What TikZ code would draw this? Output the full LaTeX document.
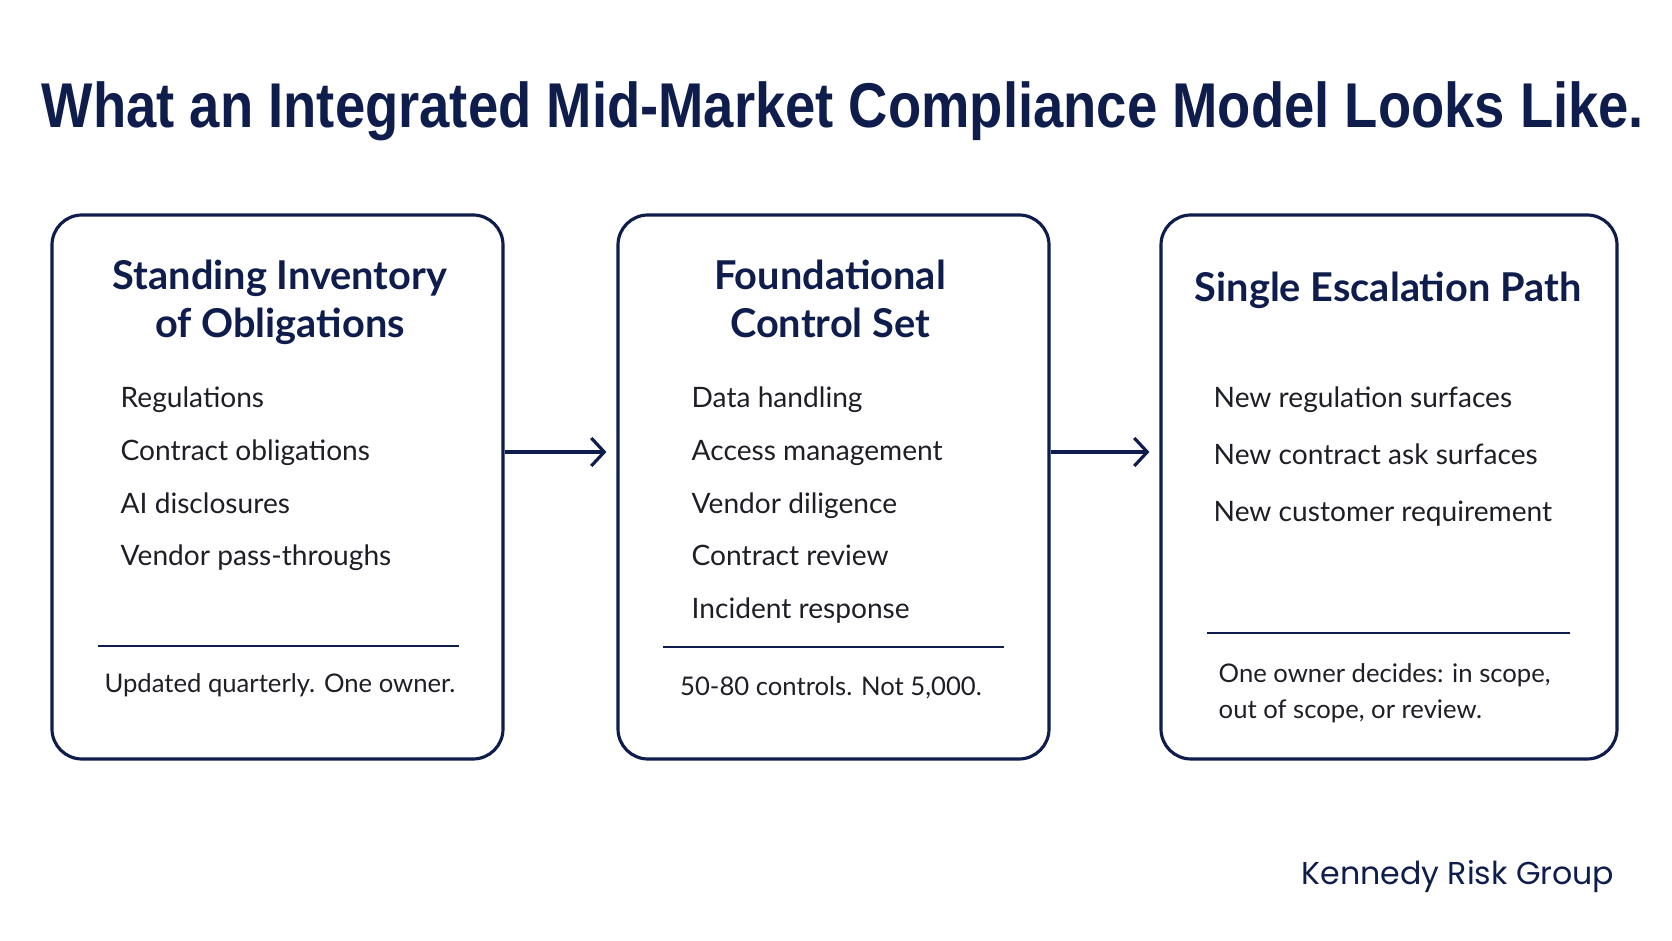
\documentclass[tikz,border=0pt]{standalone}
\usepackage{fontspec}
\usepackage{xcolor}
\usepackage{tikz}
\usetikzlibrary{arrows.meta}
\setmainfont{Lato}
\newfontfamily\titlefont{Liberation Sans}[FakeStretch=0.86]
\newfontfamily\brandfont{Poppins}
\definecolor{navy}{HTML}{0F1D4C}
\definecolor{ink}{HTML}{1E1F26}

\begin{document}
\begin{tikzpicture}[
  x=0.1mm, y=-0.1mm,
  panel/.style={draw=navy, line width=0.9pt, rounded corners=3mm, minimum height=54.4mm},
  head/.style={text=navy, font=\bfseries\fontsize{11.3}{13.9}\selectfont, align=center, anchor=base, inner sep=0pt},
  item/.style={text=ink, font=\fontsize{8}{9.5}\selectfont, anchor=base west, inner sep=0pt},
  note/.style={text=ink, font=\fontsize{7.3}{10.5}\selectfont, inner sep=0pt},
  rule/.style={draw=navy, line width=0.5pt},
  flow/.style={draw=navy, line width=0.9pt, -{Straight Barb[length=1.3mm, width=2.8mm, line width=0.9pt]}, shorten >=1mm}
]
\useasboundingbox[fill=white] (0,0) rectangle (1672,941);

% title
\node[text=navy, font=\titlefont\bfseries\fontsize{18}{20}\selectfont, anchor=base, inner sep=0pt] (title) at (843,128)
  {What an Integrated Mid-Market Compliance Model Looks Like.};

% panels
\node[panel, minimum width=45.1mm] (inv) at (277.5,487) {};
\node[panel, minimum width=43.1mm] (ctrl) at (833.5,487) {};
\node[panel, minimum width=45.6mm] (esc) at (1389,487) {};

% headings
\node[head] (invhead) at (280,338) {Standing Inventory\\of Obligations};
\node[head] (ctrlhead) at (830,338) {Foundational\\Control Set};
\node[head] (eschead) at (1388,302) {Single Escalation Path};

% lists
\foreach \t [count=\i] in {Regulations, Contract obligations, AI disclosures, Vendor pass-throughs}
  \node[item] (inv-\i) at (120,{408+52.6*(\i-1)}) {\t};
\foreach \t [count=\i] in {Data handling, Access management, Vendor diligence, Contract review, Incident response}
  \node[item] (ctrl-\i) at (691,{408+52.6*(\i-1)}) {\t};
\foreach \t [count=\i] in {New regulation surfaces, New contract ask surfaces, New customer requirement}
  \node[item] (esc-\i) at (1213,{408+57*(\i-1)}) {\t};

% rules and notes
\draw[rule] (98,646) -- (459,646);
\draw[rule] (663,647) -- (1004,647);
\draw[rule] (1207,633) -- (1570,633);
\node[note, anchor=base] (invnote) at (280,693) {Updated quarterly. One owner.};
\node[note, anchor=base] (ctrlnote) at (831,696) {50-80 controls. Not 5,000.};
\node[note, anchor=base west, align=left] (escnote) at (1218,719) {One owner decides: in scope,\\out of scope, or review.};

% arrows
\draw[flow] ([yshift=3.5mm]inv.east) -- ([yshift=3.5mm]ctrl.west);
\draw[flow] ([yshift=3.5mm]ctrl.east) -- ([yshift=3.5mm]esc.west);

\node[text=navy, font=\brandfont\fontsize{9}{11}\selectfont, anchor=base east, inner sep=0pt] (brand) at (1615,885) {Kennedy Risk Group};
\end{tikzpicture}
\end{document}
